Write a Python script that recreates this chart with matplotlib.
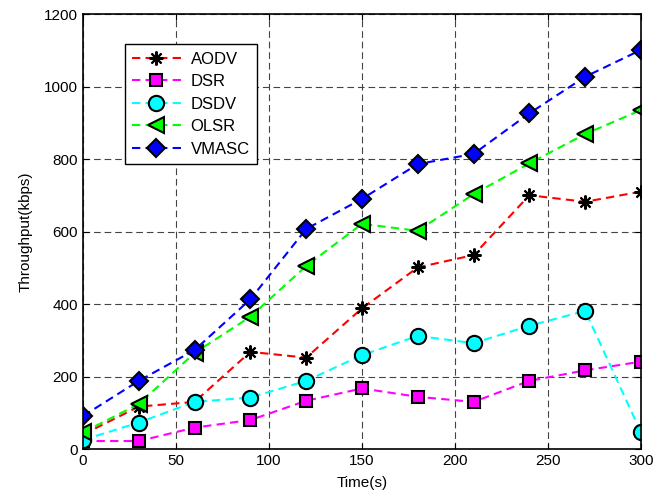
import matplotlib
matplotlib.use("Agg")
import matplotlib.pyplot as plt

plt.rcParams['font.family'] = ['Liberation Sans', 'DejaVu Sans']

time_s = [0, 30, 60, 90, 120, 150, 180, 210, 240, 270, 300]
aodv = [40, 117, 130, 268, 252, 388, 501, 535, 700, 682, 710]
dsr = [22, 22, 59, 80, 133, 167, 144, 130, 188, 217, 241]
dsdv = [25, 73, 130, 142, 188, 259, 312, 292, 340, 381, 46]
olsr = [46, 124, 265, 365, 505, 621, 602, 703, 788, 869, 935]
vmasc = [91, 188, 273, 413, 607, 690, 786, 814, 926, 1027, 1101]

fig = plt.figure(figsize=(6.67, 4.95), dpi=100)
ax = fig.add_axes([0.1244, 0.0929, 0.8366, 0.8788])

ms = dict(markeredgecolor='black', markeredgewidth=1.5, linewidth=1.5, linestyle=(0, (4, 2.5)))
ax.plot(time_s, aodv, color='red', marker=(8, 2, 0), markersize=10, label='AODV', **ms)
ax.plot(time_s, dsr, color='magenta', marker='s', markerfacecolor='magenta', markersize=9, label='DSR', **ms)
ax.plot(time_s, dsdv, color='cyan', marker='o', markerfacecolor='cyan', markersize=11, label='DSDV', **ms)
ax.plot(time_s, olsr, color='#00ff00', marker='<', markerfacecolor='#00ff00', markersize=11, label='OLSR', **ms)
ax.plot(time_s, vmasc, color='blue', marker='D', markerfacecolor='blue', markersize=9, label='VMASC', **ms)

ax.set_xlim(0, 300)
ax.set_ylim(0, 1200)
ax.set_xticks(range(0, 301, 50))
ax.set_yticks(range(0, 1201, 200))
ax.grid(True, color='#444444', linestyle=(0, (6, 3.5)), linewidth=0.8)
ax.tick_params(direction='in', top=True, right=True, labelsize=11, length=4)
for s in ax.spines.values():
    s.set_linewidth(1.2)
ax.set_xlabel('Time(s)', fontsize=11, labelpad=6)
ax.set_ylabel('Throughput(kbps)', fontsize=11, labelpad=8)

leg = ax.legend(loc='upper left', bbox_to_anchor=(0.06, 0.95), fontsize=12,
                fancybox=False, framealpha=1, edgecolor='black', handlelength=2.9,
                borderpad=0.45, labelspacing=0.45, handletextpad=0.6)
leg.get_frame().set_linewidth(1.0)

fig.savefig('out.png', dpi=100)
